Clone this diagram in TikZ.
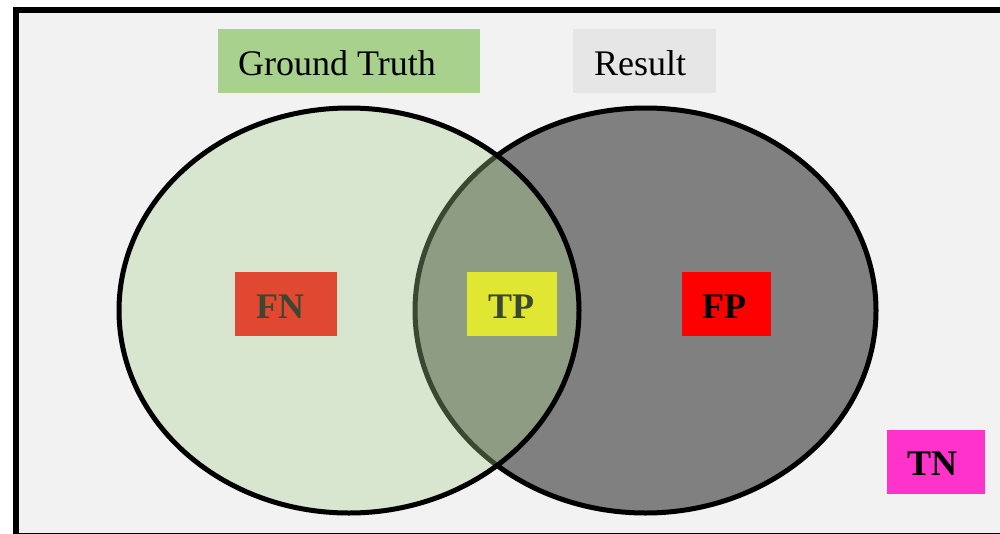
\documentclass[tikz,border=0pt]{standalone}
\usepackage{fontspec}
\setmainfont{Liberation Serif}
\definecolor{bgc}{HTML}{F2F2F2}
\definecolor{gtgreen}{HTML}{A9D18E}
\definecolor{resgray}{HTML}{E6E6E6}
\definecolor{setgray}{HTML}{808080}
\definecolor{tnpink}{HTML}{FF33CC}
\tikzset{
  box/.style={draw=none, inner sep=0pt, anchor=north west},
  lbl/.style={inner sep=0pt, anchor=base west, font=\fontsize{36}{40}\selectfont},
  blbl/.style={inner sep=0pt, anchor=base west, font=\fontsize{36}{40}\selectfont\bfseries},
  setline/.style={line width=5pt}
}
\begin{document}
\begin{tikzpicture}[x=1pt,y=-1pt]
\useasboundingbox (0,0) rectangle (1000,533);
\clip (0,0) rectangle (1000,533);
\fill[white] (0,0) rectangle (1000,533);
% frame
\draw[line width=6pt, fill=bgc] (16,9.5) rectangle (1004,535.5);
% result set (grey)
\draw[setline, fill=setgray] (645.5,310.5) ellipse [x radius=230.5, y radius=202.5];
% boxes lying under the ground-truth set
\node[box, fill=red, minimum width=102pt, minimum height=64pt] (fnbox) at (235,272) {};
\node[box, fill=yellow, minimum width=90pt, minimum height=64pt] (tpbox) at (467,272) {};
\node[blbl] (fn) at (256,318) {FN};
\node[blbl] (tp) at (488,318) {TP};
% ground truth set (translucent green)
\draw[setline, fill=gtgreen, fill opacity=0.35] (349,310.5) ellipse [x radius=230, y radius=202.5];
% FP
\node[box, fill=red, minimum width=89pt, minimum height=64pt] (fpbox) at (682,272) {};
\node[blbl] (fp) at (702,318) {FP};
% TN
\node[box, fill=tnpink, minimum width=98pt, minimum height=64pt] (tnbox) at (887,430) {};
\node[blbl] (tn) at (907,475) {TN};
% legend boxes
\node[box, fill=gtgreen, minimum width=262pt, minimum height=64pt] (gtbox) at (218,29) {};
\node[lbl] (gt) at (238,75) {Ground Truth};
\node[box, fill=resgray, minimum width=143pt, minimum height=64pt] (resbox) at (573,29) {};
\node[lbl] (res) at (594,75) {Result};
\end{tikzpicture}
\end{document}
